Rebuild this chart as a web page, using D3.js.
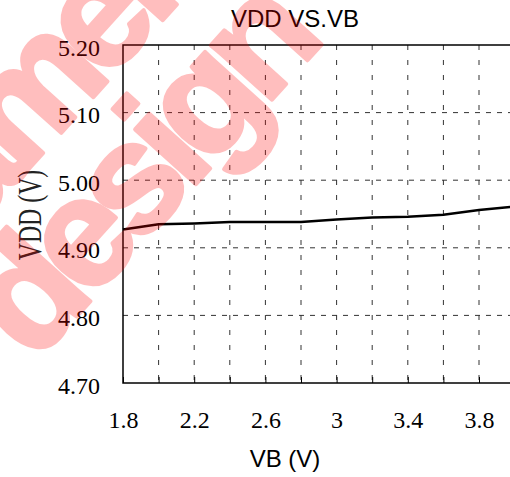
<!DOCTYPE html>
<html>
<head>
<meta charset="utf-8">
<script src="https://cdn.jsdelivr.net/npm/d3@7"></script>
<style>
  body { margin: 0; background: #fff; }
  svg { display: block; }
</style>
</head>
<body>
<div id="chart"></div>
<script>
// VDD vs VB curve

let vb  = [1.8, 2.0, 2.2, 2.4, 2.6, 2.8, 3.0, 3.2, 3.4, 3.6, 3.8, 4.0];
let vdd = [4.927, 4.935, 4.936, 4.938, 4.938, 4.938, 4.942, 4.945, 4.946, 4.949, 4.956, 4.961];

let xTicks = [1.8, 2.0, 2.2, 2.4, 2.6, 2.8, 3.0, 3.2, 3.4, 3.6, 3.8, 4.0];
let xLabels = ["1.8", "2.2", "2.6", "3", "3.4", "3.8"];
let yTicks = [4.7, 4.8, 4.9, 5.0, 5.1, 5.2];

let width = 510, height = 477;
let margin = {top: 45, left: 123, bottom: 94};

let svg = d3.select("#chart").append("svg")
    .attr("width", width)
    .attr("height", height);

let x = d3.scaleLinear().domain([1.8, 4.0]).range([123, 514.6]);
let y = d3.scaleLinear().domain([4.7, 5.2]).range([height - margin.bottom, margin.top]);

// dashed grid
svg.append("g").selectAll("line")
    .data(yTicks.slice(1, -1))
    .enter().append("line")
    .attr("x1", x(1.8)).attr("x2", x(4.0))
    .attr("y1", d => y(d)).attr("y2", d => y(d))
    .attr("stroke", "#333").attr("stroke-width", 1)
    .attr("stroke-dasharray", "5,6");

svg.append("g").selectAll("line")
    .data(xTicks.slice(1))
    .enter().append("line")
    .attr("x1", d => x(d)).attr("x2", d => x(d))
    .attr("y1", y(5.2)).attr("y2", y(4.7))
    .attr("stroke", "#333").attr("stroke-width", 1)
    .attr("stroke-dasharray", "5,10");

// x axis
let xAxis = svg.append("g")
    .attr("transform", "translate(0," + y(4.7) + ")")
    .call(d3.axisBottom(x)
        .tickValues(xTicks)
        .tickSize(-6)
        .tickPadding(28)
        .tickFormat(d => {
            let s = d3.format("")(+d.toFixed(1));
            return xLabels.indexOf(s) >= 0 ? s : "";
        }));
xAxis.select(".domain").remove();
xAxis.selectAll("line").attr("stroke", "#000");
xAxis.selectAll("text")
    .attr("font-family", "'Liberation Serif', 'Times New Roman', serif")
    .attr("font-size", 24)
    .attr("fill", "#000");

// y axis
let yAxis = svg.append("g")
    .attr("transform", "translate(" + x(1.8) + ",0)")
    .call(d3.axisLeft(y)
        .tickValues(yTicks)
        .tickSize(0)
        .tickPadding(23)
        .tickFormat(d3.format(".2f")));
yAxis.select(".domain").remove();
yAxis.selectAll("text")
    .attr("dy", 10)
    .attr("font-family", "'Liberation Serif', 'Times New Roman', serif")
    .attr("font-size", 24)
    .attr("fill", "#000");

// frame
svg.append("rect")
    .attr("x", x(1.8)).attr("y", y(5.2))
    .attr("width", x(4.0) - x(1.8))
    .attr("height", y(4.7) - y(5.2))
    .attr("fill", "none")
    .attr("stroke", "#000")
    .attr("stroke-width", 1.5);

// the curve
let line = d3.line()
    .x((d, i) => x(vb[i]))
    .y(d => y(d));

svg.append("path")
    .datum(vdd)
    .attr("d", line)
    .attr("fill", "none")
    .attr("stroke", "#000")
    .attr("stroke-width", 2.5);

// titles
svg.append("text")
    .attr("x", 295).attr("y", 27)
    .attr("text-anchor", "middle")
    .attr("font-family", "'Liberation Sans', Arial, sans-serif")
    .attr("font-size", 24)
    .text("VDD VS.VB");

svg.append("text")
    .attr("x", 285).attr("y", 467)
    .attr("text-anchor", "middle")
    .attr("font-family", "'Liberation Sans', Arial, sans-serif")
    .attr("font-size", 24)
    .text("VB (V)");

svg.append("text")
    .attr("transform", "translate(41,215) rotate(-90) scale(0.72,1)")
    .attr("text-anchor", "middle")
    .attr("font-family", "'Liberation Serif', 'Times New Roman', serif")
    .attr("font-size", 33)
    .attr("fill", "#222")
    .text("VDD (V)");

// watermark on top (group opacity so fill+stroke don't stack)
let wmAngle = 48;
let wm = svg.append("g")
    .attr("transform", "rotate(-" + wmAngle + ")")
    .attr("opacity", 0.25)
    .attr("fill", "#ff0000")
    .attr("stroke", "#ff0000")
    .attr("stroke-width", 4)
    .attr("stroke-linejoin", "round")
    .attr("font-family", "'Liberation Sans', Arial, sans-serif")
    .attr("font-weight", "bold")
    .attr("font-size", 155)
    .attr("letter-spacing", -12);

// baseline start points given in page coords, mapped into rotated frame
function wmText(str, px, py) {
    let a = wmAngle * Math.PI / 180;
    let rx = px * Math.cos(a) - py * Math.sin(a);
    let ry = px * Math.sin(a) + py * Math.cos(a);
    wm.append("text").attr("x", rx).attr("y", ry).text(str);
}
wmText("amel", -28, 232);
wmText("design", 34, 364);
</script>
</body>
</html>
